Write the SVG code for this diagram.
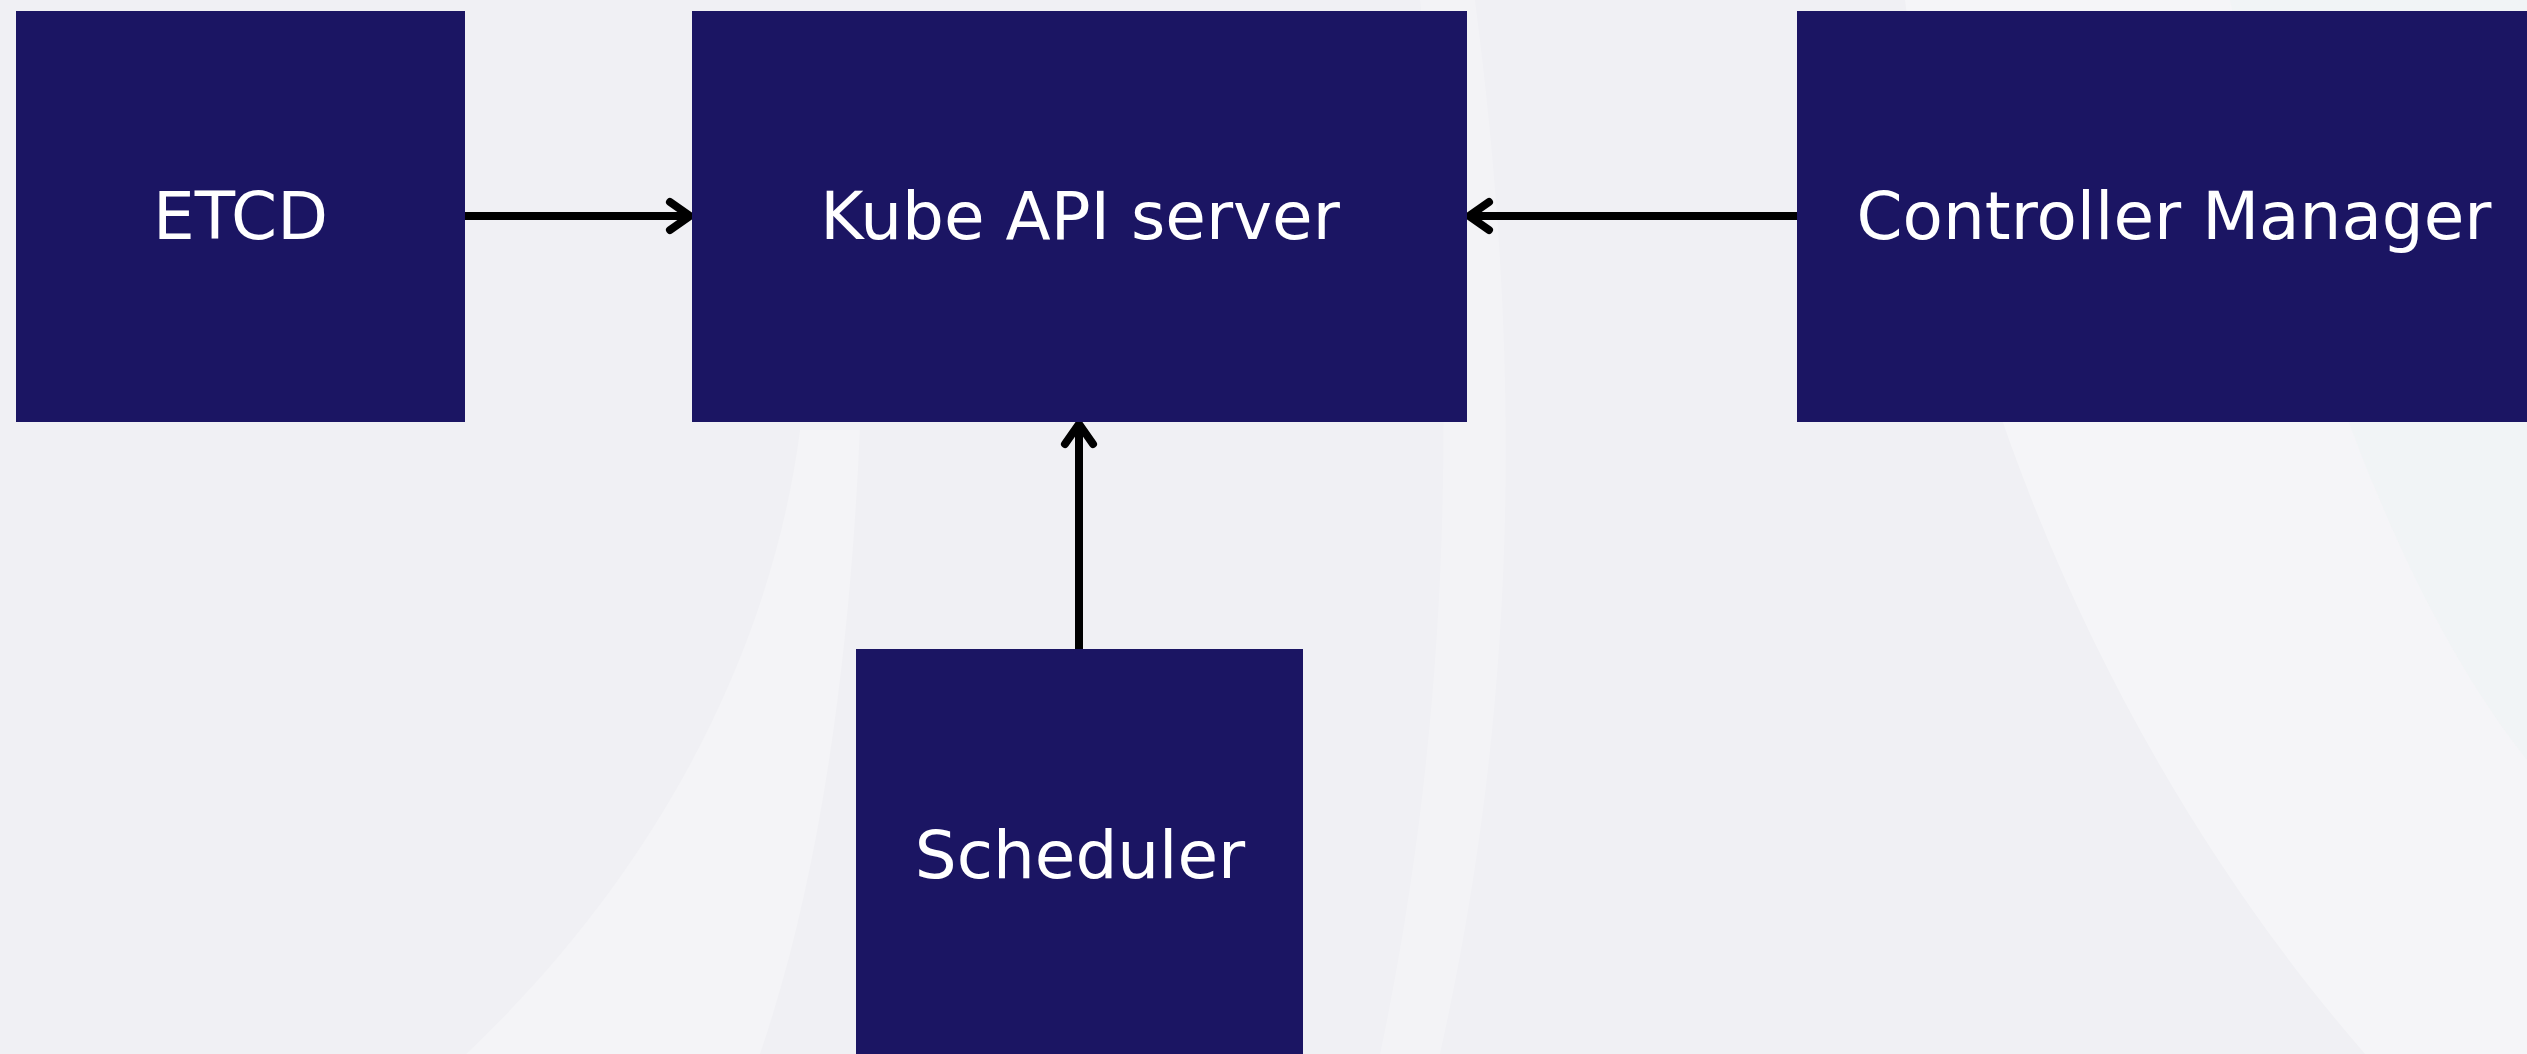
<svg xmlns="http://www.w3.org/2000/svg" width="2527" height="1054" viewBox="0 0 2527 1054">
  <style>
    .box { fill: #1b1563; }
    .label { fill: #ffffff; font-family: "DejaVu Sans", "Noto Sans", sans-serif; font-size: 66px; text-anchor: middle; }
    .conn { stroke: #000000; stroke-width: 8; fill: none; stroke-linecap: round; stroke-linejoin: round; }
    .band { fill: #ffffff; }
  </style>
  <rect x="0" y="0" width="2527" height="1054" fill="#f0f0f4"/>
  <g id="background">
    <path class="band" opacity="0.35" d="M1905,0 C1950,380 2110,760 2365,1054 L2527,1054 L2527,0 Z"/>
    <path fill="#eef4f4" opacity="0.5" d="M2230,0 C2300,330 2400,600 2527,760 L2527,0 Z"/>
    <path class="band" opacity="0.25" d="M800,430 C770,660 650,880 466,1054 L760,1054 C820,880 850,660 860,430 Z"/>
    <path class="band" opacity="0.2" d="M1475,0 C1525,380 1515,720 1440,1054 L1380,1054 C1450,720 1460,380 1420,0 Z"/>
  </g>
  <g id="connectors">
    <g id="etcd-to-api">
      <line class="conn" x1="465" y1="216" x2="688" y2="216"/>
      <polyline class="conn" points="670,202 690,216 670,230"/>
    </g>
    <g id="controller-to-api">
      <line class="conn" x1="1797" y1="216" x2="1471" y2="216"/>
      <polyline class="conn" points="1489,202 1469,216 1489,230"/>
    </g>
    <g id="scheduler-to-api">
      <line class="conn" x1="1079" y1="649" x2="1079" y2="426"/>
      <polyline class="conn" points="1065,444 1079,424 1093,444"/>
    </g>
  </g>
  <g id="etcd">
    <rect class="box" x="16" y="11" width="449" height="411"/>
    <text class="label" x="240.5" y="239">ETCD</text>
  </g>
  <g id="kube-api-server">
    <rect class="box" x="692" y="11" width="775" height="411"/>
    <text class="label" x="1080" y="239">Kube API server</text>
  </g>
  <g id="controller-manager">
    <rect class="box" x="1797" y="11" width="760" height="411"/>
    <text class="label" x="2174" y="239">Controller Manager</text>
  </g>
  <g id="scheduler">
    <rect class="box" x="856" y="649" width="447" height="420"/>
    <text class="label" x="1080" y="878">Scheduler</text>
  </g>
</svg>
